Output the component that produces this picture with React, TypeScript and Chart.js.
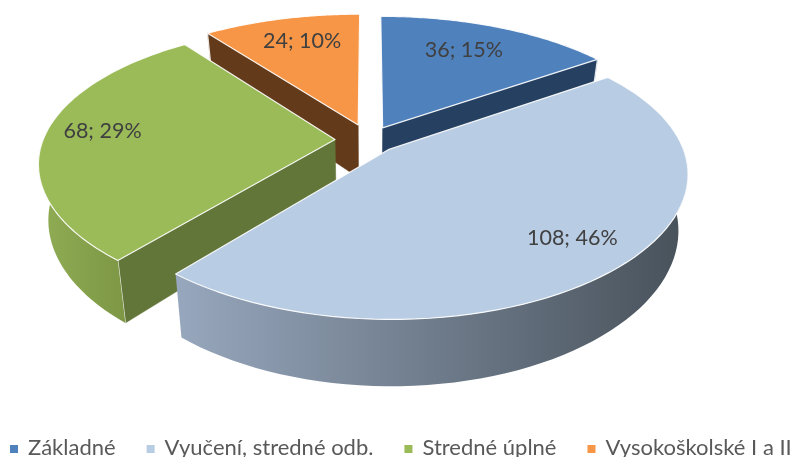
import React, { useEffect, useRef } from "react";
import { Chart, registerables } from "chart.js";

Chart.register(...registerables);

const categories = ["Základné", "Vyučení, stredné odb.", "Stredné úplné", "Vysokoškolské I a II"];
const values = [36, 108, 68, 24];
const topColors = ["#4F81BD", "#B8CCE4", "#9BBB59", "#F79646"];
const wallColors = ["#254061", "#4A5560", "#63763A", "#633A1A"];
const rimColors: string[][] = [
  ["#254061", "#254061"],
  ["#97A7BD", "#47515A"],
  ["#90AD54", "#7D9745"],
  ["#633A1A", "#633A1A"],
];
const explode = [30, 28, 34, 35];
const labelFractions = [0.68, 0.82, 0.8, 0.7];
const drawOrder = [3, 0, 2, 1];

const TILT = 0.464;
const PERSP_X = 0.16;
const PERSP_Y = 0.179;
const DEPTH = 54;
const TAPER = 0.03;
const LABEL_LIFT = 6;
const LABEL_FONT = "21.5px Lato";
const LEGEND_FONT = "22px Lato";

function makeProjector(cx: number, cy: number, R: number) {
  return (X: number, Y: number, z: number) => {
    const sx = 1 / (1 - (PERSP_X * Y) / R);
    const sy = 1 / (1 - (PERSP_Y * Y) / R);
    return {
      x: cx + X * sx * (1 - TAPER * z),
      y: cy + (TILT * Y + DEPTH * z) * sy,
    };
  };
}

const pie3d = {
  id: "pie3d",
  beforeDatasetDraw() {
    return false;
  },
  beforeDatasetsDraw(chart: any) {
    const ctx = chart.ctx;
    const arcs = chart.getDatasetMeta(0).data;
    for (const i of drawOrder) {
      const el = arcs[i];
      const { x, y, startAngle: a0, endAngle: a1, outerRadius: R } = el;
      const proj = makeProjector(x, y, R);
      const mid = (a0 + a1) / 2;
      const ox = Math.cos(mid) * explode[i];
      const oy = Math.sin(mid) * explode[i];
      const at = (r: number, a: number, z: number) =>
        proj(ox + r * Math.cos(a), oy + r * Math.sin(a), z);
      const steps = 72;
      const trace = (p: { x: number; y: number }[]) => {
        ctx.beginPath();
        p.forEach((q, n) => (n ? ctx.lineTo(q.x, q.y) : ctx.moveTo(q.x, q.y)));
      };
      const wall = (a: number) => {
        trace([at(0, a, 0), at(R, a, 0), at(R, a, 1), at(0, a, 1)]);
        ctx.closePath();
        ctx.fillStyle = wallColors[i];
        ctx.fill();
        ctx.strokeStyle = wallColors[i];
        ctx.lineWidth = 0.5;
        ctx.stroke();
        trace([at(R, a, 0), at(R, a, 1)]);
        ctx.strokeStyle = "rgba(255,255,255,0.85)";
        ctx.lineWidth = 1.2;
        ctx.stroke();
      };
      if (-Math.cos(a0) > 0.01) wall(a0);
      if (Math.cos(a1) > 0.01) wall(a1);

      // outer rim, only the arc part facing the viewer
      const top: { x: number; y: number }[] = [];
      const bottom: { x: number; y: number }[] = [];
      for (let n = 0; n <= steps; n++) {
        const a = a0 + ((a1 - a0) * n) / steps;
        if (Math.sin(a) > -0.02) {
          top.push(at(R, a, 0));
          bottom.push(at(R, a, 1));
        }
      }
      if (top.length > 1) {
        const xs = top.concat(bottom).map((p) => p.x);
        const g = ctx.createLinearGradient(Math.min(...xs), 0, Math.max(...xs), 0);
        const [c0, c1] = rimColors[i];
        g.addColorStop(0, c0);
        g.addColorStop(1, c1);
        trace(top.concat(bottom.slice().reverse()));
        ctx.closePath();
        ctx.fillStyle = g;
        ctx.fill();
      }

      // top face
      const face = [at(0, a0, 0)];
      for (let n = 0; n <= steps; n++) face.push(at(R, a0 + ((a1 - a0) * n) / steps, 0));
      trace(face);
      ctx.closePath();
      ctx.fillStyle = topColors[i];
      ctx.fill();
      ctx.strokeStyle = "rgba(255,255,255,0.9)";
      ctx.lineWidth = 1.2;
      ctx.lineJoin = "round";
      ctx.stroke();
    }
  },
  afterDatasetsDraw(chart: any) {
    const ctx = chart.ctx;
    const arcs = chart.getDatasetMeta(0).data;
    const total = values.reduce((s, v) => s + v, 0);
    ctx.save();
    ctx.font = LABEL_FONT;
    ctx.fillStyle = "#404040";
    ctx.textAlign = "center";
    ctx.textBaseline = "middle";
    arcs.forEach((el: any, i: number) => {
      const mid = (el.startAngle + el.endAngle) / 2;
      const proj = makeProjector(el.x, el.y, el.outerRadius);
      const r = explode[i] + el.outerRadius * labelFractions[i];
      const p = proj(r * Math.cos(mid), r * Math.sin(mid), 0);
      ctx.fillText(`${values[i]}; ${Math.round((values[i] / total) * 100)}%`, p.x, p.y - LABEL_LIFT);
    });

    // legend row
    ctx.font = LEGEND_FONT;
    ctx.textAlign = "left";
    ctx.textBaseline = "alphabetic";
    const boxW = 8;
    const boxGap = 10;
    const itemGap = 31;
    let lx = 10;
    categories.forEach((c, i) => {
      ctx.fillStyle = topColors[i];
      ctx.fillRect(lx, chart.height - 12, boxW, boxW);
      ctx.fillStyle = "#595959";
      ctx.fillText(c, lx + boxW + boxGap, chart.height - 2);
      lx += boxW + boxGap + ctx.measureText(c).width + itemGap;
    });
    ctx.restore();
  },
};

export default function App() {
  const ref = useRef<HTMLCanvasElement>(null);
  useEffect(() => {
    const chart = new Chart(ref.current!, {
      type: "pie",
      data: {
        labels: categories,
        datasets: [{ data: values, backgroundColor: topColors, borderWidth: 0 }],
      },
      options: {
        responsive: false,
        animation: false,
        radius: 292,
        rotation: 0,
        layout: { padding: { right: 56, bottom: 177 } },
        plugins: { legend: { display: false }, tooltip: { enabled: false } },
      } as any,
      plugins: [pie3d as any],
    });
    return () => chart.destroy();
  }, []);
  return (
    <div style={{ position: "absolute", left: 0, top: 0, width: 794, height: 457, background: "#fff", overflow: "hidden" }}>
      <canvas ref={ref} width={794} height={457} style={{ display: "block", filter: "blur(0.4px)" }} />
    </div>
  );
}
